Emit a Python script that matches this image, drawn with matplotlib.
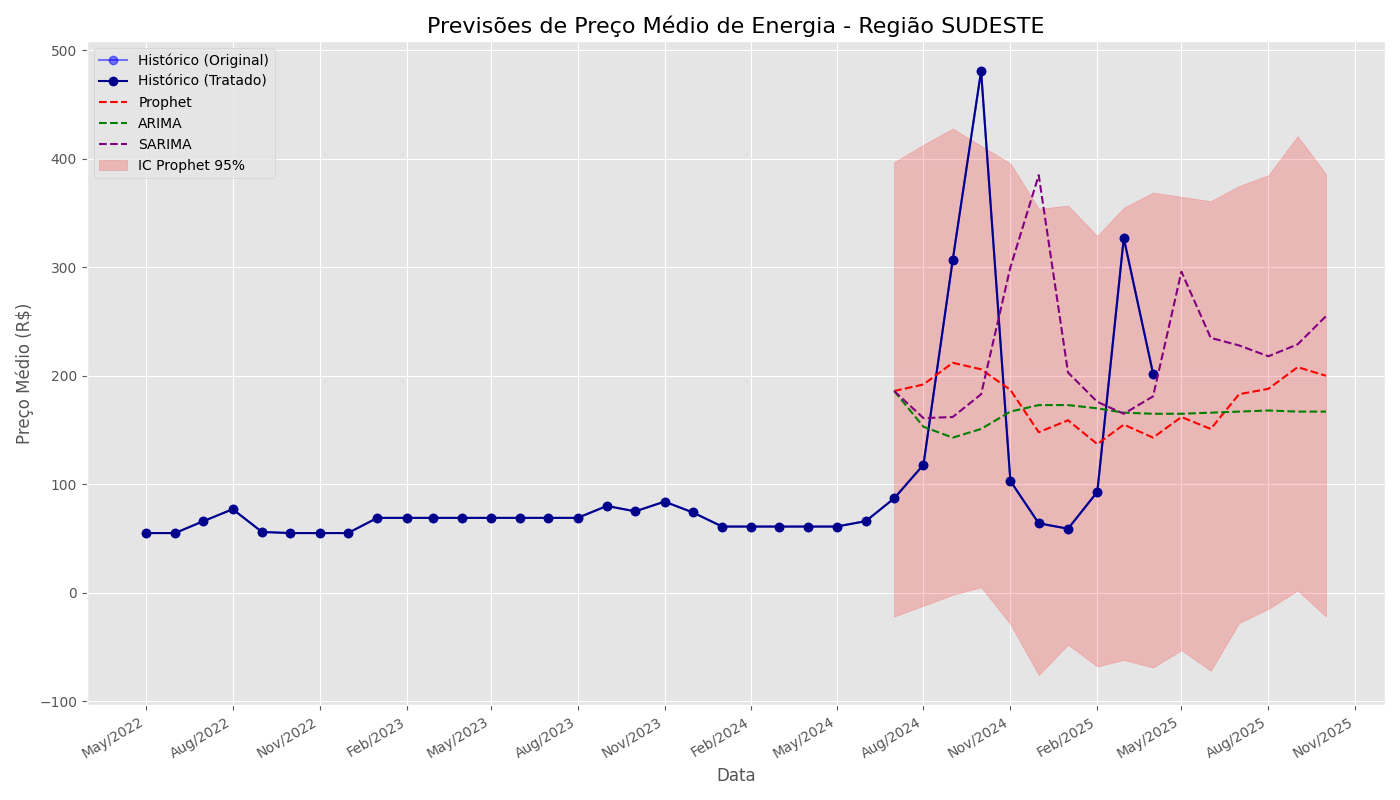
import matplotlib
matplotlib.use("Agg")
import matplotlib.pyplot as plt
import matplotlib.dates as mdates
import pandas as pd

hist_dates = pd.date_range("2022-05-01", "2025-04-01", freq="MS")
hist_vals = [55, 55, 66, 77, 56, 55, 55, 55, 69, 69, 69, 69, 69, 69, 69, 69, 80, 75, 84, 74,
             61, 61, 61, 61, 61, 66, 87, 118, 307, 481, 103, 64, 59, 93, 327, 202]
fc_dates = pd.date_range("2024-07-01", "2025-10-01", freq="MS")
prophet = [186, 192, 212, 206, 187, 148, 159, 137, 155, 143, 162, 151, 183, 188, 208, 200]
arima = [186, 153, 143, 151, 167, 173, 173, 170, 166, 165, 165, 166, 167, 168, 167, 167]
sarima = [186, 161, 162, 183, 300, 385, 203, 176, 165, 181, 296, 235, 228, 218, 229, 255]
upper = [397, 413, 428, 412, 396, 354, 357, 329, 355, 369, 365, 361, 375, 385, 421, 386]
lower = [-22, -12, -2, 5, -29, -76, -48, -68, -62, -69, -53, -72, -28, -15, 2, -22]

plt.style.use("ggplot")
fig, ax = plt.subplots(figsize=(14, 8), dpi=100)
ax.plot(hist_dates, hist_vals, "o-", color="blue", alpha=0.5, label="Histórico (Original)")
ax.plot(hist_dates, hist_vals, "o-", color="darkblue", label="Histórico (Tratado)")
ax.plot(fc_dates, prophet, "--", color="red", label="Prophet")
ax.plot(fc_dates, arima, "--", color="green", label="ARIMA")
ax.plot(fc_dates, sarima, "--", color="purple", label="SARIMA")
ax.fill_between(fc_dates, lower, upper, color="red", alpha=0.2, label="IC Prophet 95%")
ax.xaxis.set_major_locator(mdates.MonthLocator(bymonth=[2, 5, 8, 11]))
ax.xaxis.set_major_formatter(mdates.DateFormatter("%b/%Y"))
ax.set_title("Previsões de Preço Médio de Energia - Região SUDESTE", fontsize=16)
ax.set_xlabel("Data")
ax.set_ylabel("Preço Médio (R$)")
ax.legend(loc="upper left")
fig.autofmt_xdate()
fig.tight_layout()
fig.savefig("out.png")
